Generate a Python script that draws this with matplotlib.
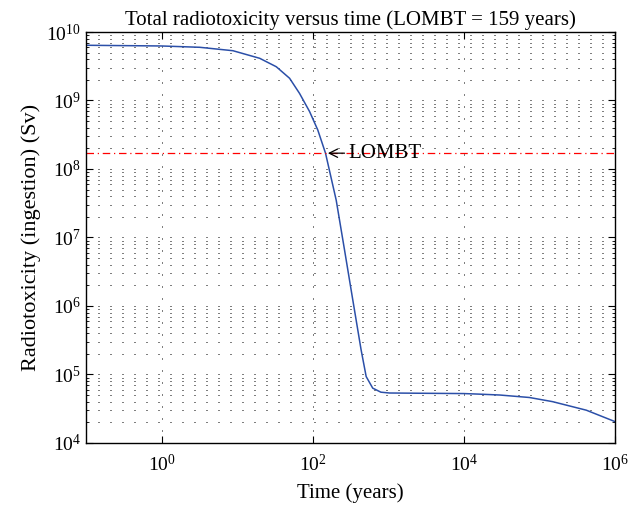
import numpy as np
import matplotlib
matplotlib.use("Agg")
import matplotlib.pyplot as plt
from matplotlib.ticker import LogLocator, NullFormatter, NullLocator

plt.rcParams["font.family"] = ["Liberation Serif", "DejaVu Serif"]
plt.rcParams["mathtext.fontset"] = "custom"
plt.rcParams["mathtext.rm"] = "Liberation Serif"
plt.rcParams["mathtext.it"] = "Liberation Serif:italic"

# Data
time_years = [0.1, 1, 3.2, 8.8, 19.9, 33, 49.5, 67, 91, 117, 148, 205,
              264, 340, 438, 511, 624, 800, 1040, 3000, 10000, 16000,
              30000, 74000, 150000, 420000, 1000000]
radiotox_sv = [6.4e9, 6.25e9, 5.98e9, 5.33e9, 4.13e9, 3.11e9, 2.11e9,
               1.27e9, 6.9e8, 3.7e8, 1.7e8, 3.5e7, 6.6e6, 1.22e6, 2.28e5,
               9.3e4, 6.3e4, 5.5e4, 5.35e4, 5.3e4, 5.25e4, 5.15e4,
               5.0e4, 4.6e4, 4.0e4, 3.0e4, 2.05e4]
lombt_level = 1.7e8
lombt_time = 159

fig = plt.figure(figsize=(6.28, 5.12), dpi=100)
ax = fig.add_axes([0.137, 0.135, 0.842, 0.8025])

ax.plot(time_years, radiotox_sv, color="#2b4fa8", lw=1.1)
ax.axhline(lombt_level, color="red", lw=0.9, ls=(0, (6, 3, 1, 3)))

ax.annotate("LOMBT", xy=(lombt_time, lombt_level), xytext=(300, lombt_level),
            ha="left", va="center", fontsize=15,
            arrowprops=dict(arrowstyle="->", color="k", lw=0.9,
                            shrinkA=1, shrinkB=0))

ax.set_xscale("log")
ax.set_yscale("log")
ax.set_xlim(0.1, 1e6)
ax.set_ylim(1e4, 1e10)
ax.set_xticks([1, 1e2, 1e4, 1e6])
ax.set_xticklabels(["$10^{0}$", "$10^{2}$", "$10^{4}$", "$10^{6}$"])
ax.set_yticks([1e4, 1e5, 1e6, 1e7, 1e8, 1e9, 1e10])
ax.set_yticklabels(["$10^{%d}$" % k for k in range(4, 11)])
ax.xaxis.set_minor_locator(NullLocator())
ax.yaxis.set_minor_locator(LogLocator(base=10, subs=np.arange(2, 10), numticks=20))
ax.yaxis.set_minor_formatter(NullFormatter())

ax.tick_params(which="both", direction="in", top=True, right=True, labelsize=14)
ax.tick_params(which="major", length=5)
ax.tick_params(which="minor", length=2.5)
ax.tick_params(axis="x", pad=8)

# sparse MATLAB-like dotted grid (1 px dot every 12 px)
dots = (0, (1, 11))
ax.grid(True, which="major", axis="x", color="k", lw=0.72, ls=dots)
ax.grid(True, which="both", axis="y", color="k", lw=0.72, ls=dots)
for s in ax.spines.values():
    s.set_linewidth(1.0)

ax.set_title("Total radiotoxicity versus time (LOMBT = 159 years)", fontsize=15, pad=5)
ax.set_xlabel("Time (years)", fontsize=15, labelpad=6)
ax.set_ylabel("Radiotoxicity (ingestion) (Sv)", fontsize=16, labelpad=4)

fig.savefig("out.png", dpi=100)
